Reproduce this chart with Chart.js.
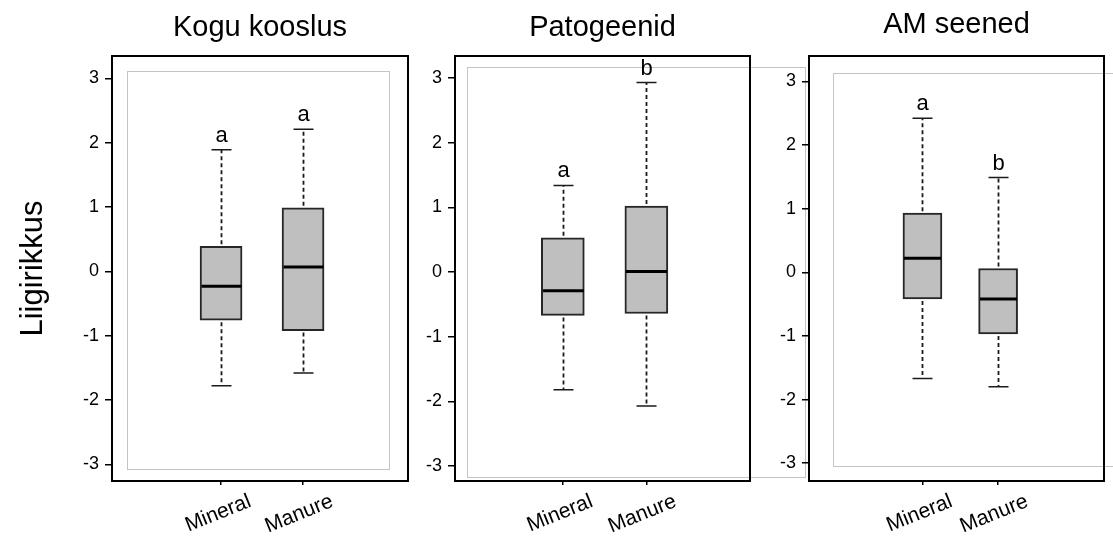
<!DOCTYPE html>
<html>
<head>
<meta charset="utf-8">
<script src="https://cdn.jsdelivr.net/npm/chart.js@4"></script>
<style>
  html, body { margin: 0; padding: 0; background: #ffffff; }
  #wrap { position: relative; width: 1113px; height: 538px; overflow: hidden; background: #ffffff; }
  canvas { position: absolute; top: 0; }
</style>
</head>
<body>
<div id="wrap">
  <canvas id="c0" width="420" height="538" style="left:0px"></canvas>
  <canvas id="c1" width="411" height="538" style="left:395px"></canvas>
  <canvas id="c2" width="364" height="538" style="left:749px"></canvas>
</div>
<script>
// ---- data ----
const panelTitles = ['Kogu kooslus', 'Patogeenid', 'AM seened'];
const categories = ['Mineral', 'Manure'];
const yTicks = [-3, -2, -1, 0, 1, 2, 3];
const yAxisTitle = 'Liigirikkus';
const whiskerLow  = [[-1.78, -1.58], [-1.82, -2.07], [-1.67, -1.80]];
const q1          = [[-0.76, -0.92], [-0.67, -0.64], [-0.42, -0.97]];
const medians     = [[-0.23,  0.07], [-0.29,  0.01], [ 0.22, -0.42]];
const q3          = [[ 0.39,  0.99], [ 0.53,  1.02], [ 0.93,  0.06]];
const whiskerHigh = [[ 1.89,  2.21], [ 1.34,  2.93], [ 2.42,  1.49]];
const letters     = [['a', 'a'], ['a', 'b'], ['a', 'b']];

// ---- layout / style settings ----
const FONT = "'Liberation Sans', Arial, Helvetica, sans-serif";
const yRange = [[-3.26, 3.35], [-3.23, 3.34], [-3.28, 3.40]];
const xRange = [[-0.33, 3.28], [-0.29, 3.24], [-0.50, 3.40]];
const boxWidth = [42, 43, 39];
const yAxisWidth = [112, 60, 60];
const padRight = [12, 56, 9];
const titleSize = 29;
const titlePadTop = [11, 11, 7.5];
const grayInset = [[15, 15, 19, 12], [12, 11, -55, 4], [24, 17, -20, 15]];

const boxExtras = {
  id: 'boxExtras',
  beforeDatasetsDraw(chart, args, opts) {
    const ctx = chart.ctx, a = chart.chartArea, ins = opts.inset;
    ctx.save();
    ctx.strokeStyle = '#c4c4c4';
    ctx.lineWidth = 1;
    ctx.strokeRect(Math.round(a.left + ins[0]) + 0.5, Math.round(a.top + ins[1]) + 0.5,
      Math.round(a.right - a.left - ins[0] - ins[2]), Math.round(a.bottom - a.top - ins[1] - ins[3]));
    ctx.restore();
  },
  afterDatasetsDraw(chart, args, opts) {
    const ctx = chart.ctx, a = chart.chartArea;
    const xs = chart.scales.x, ys = chart.scales.y;
    const p = opts.panel;
    ctx.save();
    categories.forEach((c, j) => {
      const cx = Math.round(xs.getPixelForValue(j + 1)) + 0.5;
      const yHi = ys.getPixelForValue(whiskerHigh[p][j]);
      const yLo = ys.getPixelForValue(whiskerLow[p][j]);
      const yQ1 = ys.getPixelForValue(q1[p][j]);
      const yQ3 = ys.getPixelForValue(q3[p][j]);
      const yMed = ys.getPixelForValue(medians[p][j]);
      ctx.strokeStyle = '#1a1a1a';
      ctx.lineWidth = 1.8;
      ctx.setLineDash([4, 3]);
      ctx.beginPath();
      ctx.moveTo(cx, yQ3 - 2); ctx.lineTo(cx, yHi);
      ctx.moveTo(cx, yQ1 + 2); ctx.lineTo(cx, yLo);
      ctx.stroke();
      ctx.setLineDash([]);
      ctx.lineWidth = 1.5;
      ctx.beginPath();
      ctx.moveTo(cx - 10, yHi); ctx.lineTo(cx + 10, yHi);
      ctx.moveTo(cx - 10, yLo); ctx.lineTo(cx + 10, yLo);
      ctx.stroke();
      const half = boxWidth[p] / 2 - 1;
      ctx.strokeStyle = '#000';
      ctx.lineWidth = 3;
      ctx.beginPath();
      ctx.moveTo(cx - half, yMed); ctx.lineTo(cx + half, yMed);
      ctx.stroke();
      ctx.fillStyle = '#000';
      ctx.font = '22px ' + FONT;
      ctx.textAlign = 'center';
      ctx.textBaseline = 'alphabetic';
      ctx.fillText(letters[p][j], cx, yHi - 8);
    });
    ctx.strokeStyle = '#000';
    ctx.lineWidth = 2;
    ctx.strokeRect(a.left, a.top, a.right - a.left, a.bottom - a.top);
    ctx.restore();
  }
};

function makeChart(p) {
  const canvas = document.getElementById('c' + p);
  return new Chart(canvas, {
    type: 'bar',
    data: {
      datasets: [{
        data: categories.map((c, j) => ({ x: j + 1, y: [q1[p][j], q3[p][j]] })),
        backgroundColor: '#bfbfbf',
        borderColor: '#262626',
        borderWidth: 2,
        borderSkipped: false,
        barThickness: boxWidth[p]
      }]
    },
    plugins: [boxExtras],
    options: {
      responsive: false,
      animation: false,
      events: [],
      layout: { padding: { left: 0, right: padRight[p], top: 0, bottom: 0 } },
      plugins: {
        legend: { display: false },
        tooltip: { enabled: false },
        title: {
          display: true,
          text: panelTitles[p],
          fullSize: false,
          color: '#000',
          font: { family: FONT, size: titleSize, weight: 'normal', lineHeight: 1.2 },
          padding: { top: titlePadTop[p], bottom: 56 - titleSize * 1.2 - titlePadTop[p] }
        },
        boxExtras: { panel: p, inset: grayInset[p] }
      },
      scales: {
        x: {
          type: 'linear',
          min: xRange[p][0], max: xRange[p][1],
          offset: false,
          afterBuildTicks: s => { s.ticks = categories.map((c, j) => ({ value: j + 1 })); },
          afterFit: s => { s.height = 57; },
          ticks: {
            callback: v => categories[v - 1],
            minRotation: 22, maxRotation: 22,
            labelOffset: 29,
            padding: 4,
            autoSkip: false,
            color: '#000',
            font: { family: FONT, size: 21 }
          },
          grid: { display: true, drawOnChartArea: false, drawTicks: true, tickLength: 4, color: '#000', lineWidth: 1.5, offset: false },
          border: { display: false }
        },
        y: {
          type: 'linear',
          min: yRange[p][0], max: yRange[p][1],
          afterBuildTicks: s => { s.ticks = yTicks.map(v => ({ value: v })); },
          afterFit: s => { s.width = yAxisWidth[p]; },
          ticks: {
            callback: v => String(v),
            padding: 6,
            color: '#000',
            font: { family: FONT, size: 18 }
          },
          grid: { display: true, drawOnChartArea: false, drawTicks: true, tickLength: 7, color: '#000', lineWidth: 1.5 },
          border: { display: false },
          title: {
            display: p === 0,
            text: yAxisTitle,
            color: '#000',
            font: { family: FONT, size: 31, weight: 'normal', lineHeight: 1.2 },
            padding: { top: 15, bottom: 0 }
          }
        }
      }
    }
  });
}

[0, 1, 2].forEach(makeChart);
</script>
</body>
</html>
